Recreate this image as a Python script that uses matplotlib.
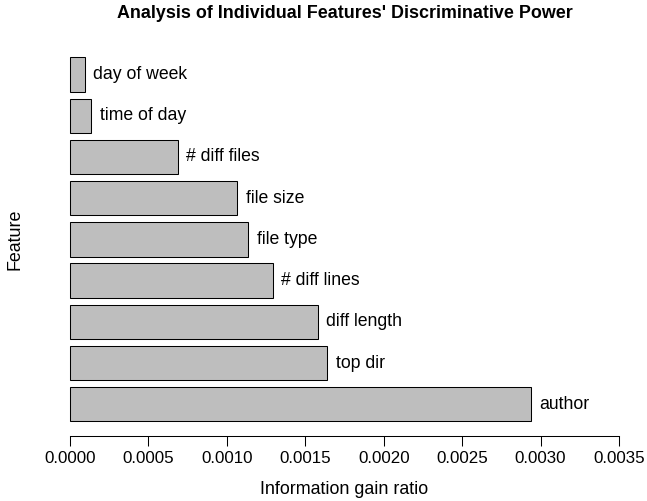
import matplotlib
matplotlib.use("Agg")
import matplotlib.pyplot as plt

features = ["author", "top dir", "diff length", "# diff lines", "file type",
            "file size", "# diff files", "time of day", "day of week"]
gain_ratio = [0.002939, 0.00164, 0.00158, 0.001293, 0.001138,
              0.001066, 0.000688, 0.000136, 0.0000936]
xticks = [0.0, 0.0005, 0.0010, 0.0015, 0.0020, 0.0025, 0.0030, 0.0035]
xtick_labels = ["0.0000", "0.0005", "0.0010", "0.0015", "0.0020", "0.0025", "0.0030", "0.0035"]

plt.rcParams['font.family'] = ['Liberation Sans', 'DejaVu Sans']

W, H = 647, 501
fig = plt.figure(figsize=(W / 100, H / 100), dpi=100)
left, right, top, bottom = 48, 641, 42.8, 436
ax = fig.add_axes([left / W, 1 - bottom / H, (right - left) / W, (bottom - top) / H])

ypos = [0.7 + 1.2 * i for i in range(len(features))]
ax.barh(ypos, gain_ratio, height=1.0, color="#BEBEBE", edgecolor="black", linewidth=0.75)
for y, v, lab in zip(ypos, gain_ratio, features):
    ax.annotate(lab, (v, y), xytext=(6, 0), textcoords="offset points",
                ha="left", va="center", fontsize=12.7)

ax.set_xlim(-0.00014, 0.00364)
ax.set_ylim(-0.224, 11.224)
for s in ["top", "right", "left"]:
    ax.spines[s].set_visible(False)
ax.spines["bottom"].set_bounds(0, 0.0035)
ax.spines["bottom"].set_linewidth(0.75)
ax.set_yticks([])
ax.set_xticks(xticks)
ax.set_xticklabels(xtick_labels, fontsize=12.2)
ax.tick_params(axis="x", length=7, width=0.75, pad=3.5)
fig.text(344.5 / W, 1 - 489 / H, "Information gain ratio", ha="center", va="center", fontsize=12.9)
fig.text(15 / W, 1 - 239 / H, "Feature", rotation=90, ha="center", va="center", fontsize=12.9)
fig.text(344.5 / W, 1 - 14 / H, "Analysis of Individual Features' Discriminative Power",
         ha="center", va="center", fontsize=12.9, fontweight="bold")

fig.savefig("out.png", dpi=100)
